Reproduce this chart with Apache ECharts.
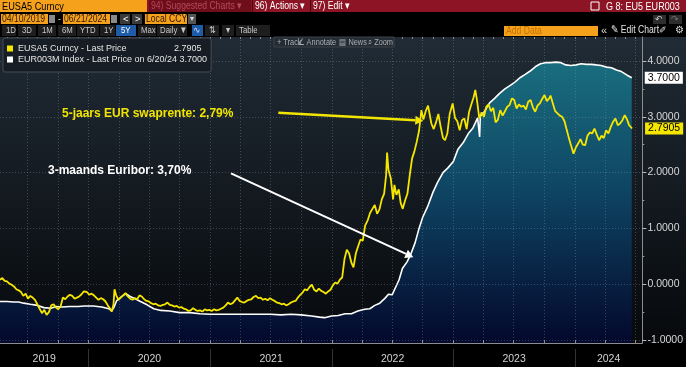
<!DOCTYPE html>
<html><head><meta charset="utf-8">
<script src="https://cdn.jsdelivr.net/npm/echarts@6/dist/echarts.min.js"></script>
<style>html,body{margin:0;padding:0;background:#000;overflow:hidden}#c{width:686px;height:367px}</style>
</head><body><div id="c"></div><script>
// ---------- DATA ----------
const swapName = 'EUSA5 Curncy - Last Price';
const euriborName = 'EUR003M Index - Last Price on 6/20/24';
const swapDates = ['2019-04-10','2019-04-17','2019-04-24','2019-05-01','2019-05-08','2019-05-15','2019-05-22','2019-05-29','2019-06-05','2019-06-12','2019-06-19','2019-06-26','2019-07-03','2019-07-10','2019-07-17','2019-07-24','2019-07-31','2019-08-07','2019-08-14','2019-08-21','2019-08-28','2019-09-04','2019-09-11','2019-09-18','2019-09-25','2019-10-02','2019-10-09','2019-10-16','2019-10-23','2019-10-30','2019-11-06','2019-11-13','2019-11-20','2019-11-27','2019-12-04','2019-12-11','2019-12-18','2019-12-27',
'2020-01-03','2020-01-10','2020-01-17','2020-01-24','2020-01-31','2020-02-07','2020-02-14','2020-02-21','2020-02-28','2020-03-06','2020-03-11','2020-03-16','2020-03-19','2020-03-24','2020-03-31','2020-04-07','2020-04-14','2020-04-21','2020-04-28','2020-05-05','2020-05-12','2020-05-19','2020-05-26','2020-06-02','2020-06-09','2020-06-16','2020-06-23','2020-06-30','2020-07-07','2020-07-14','2020-07-21','2020-07-28','2020-08-04','2020-08-11','2020-08-18','2020-08-25','2020-09-01','2020-09-08','2020-09-15','2020-09-22','2020-09-29','2020-10-06','2020-10-13','2020-10-20','2020-10-27','2020-11-03','2020-11-10','2020-11-17','2020-11-24','2020-12-01','2020-12-08','2020-12-15','2020-12-22','2020-12-29',
'2021-01-05','2021-01-12','2021-01-19','2021-01-26','2021-02-02','2021-02-09','2021-02-16','2021-02-23','2021-03-02','2021-03-09','2021-03-16','2021-03-23','2021-03-30','2021-04-06','2021-04-13','2021-04-20','2021-04-27','2021-05-04','2021-05-11','2021-05-18','2021-05-25','2021-06-01','2021-06-08','2021-06-15','2021-06-22','2021-06-29','2021-07-06','2021-07-13','2021-07-20','2021-07-27','2021-08-03','2021-08-10','2021-08-17','2021-08-24','2021-08-31','2021-09-07','2021-09-14','2021-09-21','2021-09-28','2021-10-05','2021-10-12','2021-10-19','2021-10-26','2021-11-02','2021-11-09','2021-11-16','2021-11-23','2021-11-30','2021-12-07','2021-12-14','2021-12-21','2021-12-28',
'2022-01-04','2022-01-11','2022-01-18','2022-01-25','2022-02-01','2022-02-08','2022-02-15','2022-02-22','2022-03-01','2022-03-07','2022-03-14','2022-03-21','2022-03-28','2022-04-04','2022-04-11','2022-04-19','2022-04-26','2022-05-03','2022-05-10','2022-05-17','2022-05-24','2022-05-31','2022-06-07','2022-06-13','2022-06-16','2022-06-20','2022-06-27','2022-07-04','2022-07-08','2022-07-14','2022-07-21','2022-07-27','2022-08-02','2022-08-09','2022-08-16','2022-08-23','2022-08-30','2022-09-06','2022-09-13','2022-09-20','2022-09-27','2022-10-03','2022-10-10','2022-10-17','2022-10-21','2022-10-27','2022-11-03','2022-11-10','2022-11-17','2022-11-24','2022-12-01','2022-12-07','2022-12-14','2022-12-21','2022-12-30',
'2023-01-06','2023-01-13','2023-01-20','2023-01-27','2023-02-03','2023-02-10','2023-02-17','2023-02-24','2023-03-03','2023-03-08','2023-03-13','2023-03-20','2023-03-27','2023-04-03','2023-04-10','2023-04-17','2023-04-24','2023-05-01','2023-05-08','2023-05-15','2023-05-22','2023-05-29','2023-06-05','2023-06-12','2023-06-19','2023-06-26','2023-07-03','2023-07-10','2023-07-17','2023-07-24','2023-07-31','2023-08-07','2023-08-14','2023-08-21','2023-08-28','2023-09-04','2023-09-11','2023-09-18','2023-09-25','2023-10-02','2023-10-09','2023-10-16','2023-10-20','2023-10-27','2023-11-03','2023-11-10','2023-11-17','2023-11-24','2023-12-01','2023-12-08','2023-12-15','2023-12-20','2023-12-28',
'2024-01-04','2024-01-11','2024-01-18','2024-01-25','2024-02-01','2024-02-08','2024-02-15','2024-02-22','2024-02-29','2024-03-07','2024-03-14','2024-03-21','2024-03-28','2024-04-04','2024-04-11','2024-04-18','2024-04-25','2024-05-02','2024-05-09','2024-05-16','2024-05-23','2024-05-30','2024-06-06','2024-06-12','2024-06-17','2024-06-21'];
const swapValues = [0.08,0.11,0.06,0.05,0.01,-0.01,-0.04,-0.09,-0.11,-0.14,-0.21,-0.17,-0.26,-0.21,-0.24,-0.28,-0.36,-0.44,-0.52,-0.46,-0.55,-0.50,-0.38,-0.36,-0.42,-0.45,-0.40,-0.24,-0.27,-0.22,-0.19,-0.21,-0.26,-0.24,-0.22,-0.18,-0.13,-0.14,
-0.19,-0.17,-0.20,-0.24,-0.28,-0.25,-0.27,-0.31,-0.38,-0.44,-0.49,-0.36,-0.09,-0.20,-0.28,-0.24,-0.20,-0.16,-0.22,-0.26,-0.28,-0.25,-0.27,-0.20,-0.22,-0.27,-0.30,-0.31,-0.34,-0.36,-0.35,-0.38,-0.39,-0.37,-0.36,-0.33,-0.37,-0.38,-0.40,-0.39,-0.42,-0.41,-0.44,-0.45,-0.48,-0.47,-0.43,-0.46,-0.48,-0.47,-0.49,-0.45,-0.47,-0.46,
-0.48,-0.45,-0.47,-0.46,-0.44,-0.42,-0.38,-0.33,-0.36,-0.34,-0.29,-0.24,-0.30,-0.32,-0.33,-0.30,-0.28,-0.27,-0.23,-0.21,-0.25,-0.24,-0.28,-0.26,-0.29,-0.25,-0.28,-0.30,-0.33,-0.34,-0.36,-0.35,-0.38,-0.36,-0.33,-0.31,-0.30,-0.24,-0.19,-0.15,-0.09,-0.11,-0.05,-0.01,-0.10,-0.13,-0.08,-0.12,-0.14,-0.17,-0.13,-0.10,
-0.02,0.03,0.01,0.08,0.12,0.45,0.62,0.55,0.38,0.30,0.55,0.68,0.80,0.78,1.05,1.15,1.28,1.35,1.42,1.26,1.34,1.52,1.62,1.95,2.36,2.05,1.90,1.52,1.78,1.60,1.70,1.45,1.35,1.50,1.62,1.95,2.25,2.38,2.55,2.75,3.12,2.95,3.10,3.20,3.18,2.88,2.78,2.90,3.05,2.82,2.62,2.58,2.70,3.05,3.24,
2.98,2.92,2.76,2.94,2.97,2.78,3.08,3.22,3.35,3.48,3.30,2.97,3.08,3.00,3.18,3.22,3.10,3.16,2.90,2.95,3.12,3.02,3.10,3.18,3.21,3.33,3.30,3.15,3.22,3.18,3.20,3.13,3.27,3.30,3.17,3.09,3.20,3.24,3.32,3.39,3.28,3.33,3.38,3.24,3.10,3.06,3.02,3.00,2.92,2.76,2.60,2.50,2.34,
2.45,2.52,2.60,2.50,2.49,2.66,2.72,2.70,2.79,2.68,2.58,2.66,2.62,2.76,2.70,2.82,2.91,2.97,2.85,2.88,2.94,3.03,2.95,2.85,2.82,2.7905];
const euriborDates = ['2019-04-10','2019-05-01','2019-05-20','2019-06-05','2019-06-20','2019-07-10','2019-08-01','2019-08-20','2019-09-10','2019-09-25','2019-10-15','2019-11-05','2019-12-01','2019-12-20','2020-01-15','2020-02-10','2020-03-02','2020-03-10','2020-03-17','2020-03-25','2020-04-10','2020-04-22','2020-05-05','2020-05-20','2020-06-05','2020-06-25','2020-07-15','2020-08-05','2020-09-01','2020-10-01','2020-11-01','2020-12-01','2021-01-01','2021-02-01','2021-03-01','2021-04-01','2021-05-01','2021-06-01','2021-07-01','2021-08-01','2021-09-01','2021-10-01','2021-11-01','2021-11-25','2021-12-10','2021-12-31','2022-01-20','2022-02-10','2022-03-01','2022-03-20','2022-04-10','2022-04-25','2022-05-10','2022-05-25','2022-06-10','2022-06-20','2022-07-01','2022-07-12','2022-07-22','2022-08-01','2022-08-15','2022-08-25','2022-09-08','2022-09-20','2022-10-01','2022-10-15','2022-11-01','2022-11-15','2022-12-01','2022-12-15','2023-01-01','2023-01-15','2023-02-01','2023-02-15','2023-03-01','2023-03-15','2023-03-21','2023-03-23','2023-04-05','2023-04-20','2023-05-05','2023-05-20','2023-06-05','2023-06-20','2023-07-05','2023-07-20','2023-08-05','2023-08-20','2023-09-05','2023-09-20','2023-10-05','2023-10-20','2023-11-05','2023-11-20','2023-12-05','2023-12-20','2024-01-05','2024-01-20','2024-02-05','2024-02-20','2024-03-05','2024-03-20','2024-04-05','2024-04-20','2024-05-05','2024-05-20','2024-06-05','2024-06-20'];
const euriborValues = [-0.31,-0.31,-0.32,-0.32,-0.34,-0.36,-0.38,-0.42,-0.43,-0.40,-0.41,-0.40,-0.40,-0.39,-0.39,-0.41,-0.44,-0.48,-0.42,-0.30,-0.22,-0.17,-0.22,-0.26,-0.31,-0.37,-0.44,-0.47,-0.48,-0.51,-0.51,-0.53,-0.54,-0.54,-0.54,-0.54,-0.54,-0.54,-0.54,-0.55,-0.54,-0.55,-0.57,-0.59,-0.60,-0.57,-0.56,-0.53,-0.53,-0.48,-0.45,-0.44,-0.38,-0.34,-0.25,-0.18,-0.19,-0.05,0.08,0.28,0.40,0.52,0.74,1.00,1.20,1.38,1.65,1.83,2.00,2.08,2.20,2.42,2.55,2.70,2.80,2.98,2.64,3.01,3.10,3.25,3.33,3.42,3.50,3.56,3.62,3.70,3.76,3.82,3.90,3.95,3.97,3.97,3.98,3.97,3.93,3.92,3.93,3.95,3.94,3.94,3.93,3.92,3.89,3.88,3.84,3.81,3.75,3.70];
const yTickValues = [-1,0,1,2,3,4];
const yMinorTicks = [-0.5,0.5,1.5,2.5,3.5];
const yearLabels = ['2019','2020','2021','2022','2023','2024'];
const yearStarts = ['2020-01-01','2021-01-01','2022-01-01','2023-01-01','2024-01-01'];
const xMinDate = '2019-04-10', xMaxDate = '2024-07-22';
const yMin = -1.054, yMax = 4.43;

// ---------- helpers ----------
const ts = s => Date.UTC(+s.slice(0,4), +s.slice(5,7) - 1, +s.slice(8,10));
const xMin = ts(xMinDate), xMax = ts(xMaxDate);
const quarterTicks = [], monthTicks = [];
for (let y = 2019; y <= 2024; y++) for (let m = 1; m <= 12; m++) {
  const t = Date.UTC(y, m - 1, 1);
  if (t < xMin || t > xMax) continue;
  monthTicks.push(t); if ((m - 1) % 3 === 0) quarterTicks.push(t);
}
const bounds = [xMin].concat(yearStarts.map(ts), [xMax]);
const yearLabelPos = yearLabels.map((_, i) => (bounds[i] + bounds[i + 1]) / 2);
const swapData = swapDates.map((d, i) => [ts(d), swapValues[i]]);
const euriborData = euriborDates.map((d, i) => [ts(d), euriborValues[i]]);
const swapLast = swapValues[swapValues.length - 1];
const eurLast = euriborValues[euriborValues.length - 1];

const SF = '"Liberation Sans",Arial,sans-serif';
const els = [];
function R(x, y, w, h, fill) { els.push({type:'rect', shape:{x, y, width:w, height:h}, style:{fill}, z:100, silent:true}); }
// narrow UI text (Bloomberg-like condensed font approximated with horizontal scaling)
function T(x, y, text, fill, size, sx, weight) {
  els.push({type:'text', x, y, scaleX:(sx == null ? 0.82 : sx), style:{text, fill, font:`${weight||'normal'} ${size}px ${SF}`, verticalAlign:'middle'}, z:101, silent:true});
}
function arrow(x1, y1, x2, y2, color, w, hl, hw) {
  const L = Math.hypot(x2 - x1, y2 - y1), dx = (x2 - x1) / L, dy = (y2 - y1) / L;
  const bx = x2 - dx * hl, by = y2 - dy * hl, px = -dy, py = dx;
  els.push({type:'line', shape:{x1, y1, x2:bx, y2:by}, style:{stroke:color, lineWidth:w}, z:110, silent:true});
  els.push({type:'polygon', shape:{points:[[x2, y2],[bx + px*hw, by + py*hw],[bx - px*hw, by - py*hw]]}, style:{fill:color}, z:110, silent:true});
}
// plot background
els.push({type:'rect', shape:{x:0, y:37, width:686, height:306}, z:-10, silent:true,
  style:{fill:new echarts.graphic.LinearGradient(0,0,0,1,[{offset:0,color:'#202b35'},{offset:1,color:'#07090c'}])}});
// row 1
R(0,0,686,12,'#8c1424');
R(0,0,147,12,'#f6a11c');
T(2,6.5,'EUSA5 Curncy','#000',11.5,0.8);
R(149,0,102,12,'#6e0e1b');
T(151,6.5,'94) Suggested Charts ▾','#b54a5c',10.5);
R(252,0,1,12,'#4a0710'); R(310,0,1,12,'#4a0710');
T(255,6.5,'96) Actions ▾','#ffffff',10.5);
T(313,6.5,'97) Edit ▾','#ffffff',10.5);
els.push({type:'rect', shape:{x:591,y:2,width:8,height:8}, style:{fill:'none',stroke:'#fff',lineWidth:1}, z:101, silent:true});
T(606,6.5,'G 8: EU5 EUR003','#ffffff',11);
// row 2
R(1,14,47,10,'#f6a11c'); T(2,19.5,'04/10/2019','#2b1800',10.5);
R(49,15,6,8,'#8a8a8a');
T(58,19,'-','#ddd',10);
R(63,14,47,10,'#f6a11c'); T(64,19.5,'06/21/2024','#2b1800',10.5);
R(111,15,6,8,'#8a8a8a');
R(120,14,10,10,'#3a3a3a'); T(123,19.5,'<','#fff',9.5,1);
R(132,14,10,10,'#3a3a3a'); T(135,19.5,'>','#fff',9.5,1);
R(145,14,42,10,'#f6a11c'); T(146,19.5,'Local CCY','#2b1800',10.5);
R(188,14,8,10,'#555'); T(190,19,'▾','#ddd',8,1);
R(653,15,13,9,'#2d2d2d'); T(655,19.5,'↶','#ccc',9,1);
R(669,15,13,9,'#2d2d2d'); T(671,19.5,'↷','#777',9,1);
// row 3
[[2,14,'1D'],[18,18,'3D'],[38,18,'1M'],[58,18,'6M'],[77,22,'YTD'],[100,15,'1Y'],[138,18,'Max'],[157,30,'Daily ▼'],[205,14,'⇅'],[222,12,'▾'],[236,34,'Table']].forEach(b => {
  R(b[0],25,b[1],11,'#1e1e1e'); T(b[0] + (b[2].length < 3 ? 4 : 3),30.5,b[2],'#c9c9c9',9.5);
});
R(116,25,20,11,'#1e5ca8'); T(121,30.5,'5Y','#fff',9.5);
R(192,25,11,11,'#1e5ca8'); T(193,30.5,'∿','#cfe0ff',9,1);
R(504,26,94,10,'#f6a11c'); T(506,31,'Add Data','#c27300',10.5);
T(601,30.5,'«','#ddd',11,1);
T(611,30.5,'✎ Edit Chart','#e0e0e0',10.5);
T(659,30.5,'✐','#ddd',9,1);
T(675,30.5,'⚙','#ddd',10,1);
// plot toolbar
els.push({type:'rect', shape:{x:274,y:37,width:120,height:10}, style:{fill:'#252c33', stroke:'#3c434a', lineWidth:1}, z:100, silent:true});
T(277,42.5,'+ Track','#aab0b6',9); T(298,42.5,'∠ Annotate','#aab0b6',9); T(339,42.5,'▤ News','#aab0b6',9); T(368,42.5,'⌕ Zoom','#aab0b6',9);
// annotations
T(62,113.5,'5-jaars EUR swaprente: 2,79%','#f2e600',12,1,'bold');
arrow(278.3,112.7,423.3,120.7,'#f2e600',2.5,8,4.5);
T(48,170.5,'3-maands Euribor: 3,70%','#ffffff',12,1,'bold');
arrow(231,173.3,413.3,257.3,'#ffffff',2,8,4.5);

const chart = echarts.init(document.getElementById('c'), null, {renderer:'canvas'});
const gridDot = {show:true, lineStyle:{color:'rgba(150,160,170,0.34)', type:[1,2], width:1}};
chart.setOption({
  animation:false,
  backgroundColor:'#000',
  grid:{left:0, right:41, top:37, bottom:24},
  legend:{
    left:3, top:38, orient:'vertical', icon:'rect', itemWidth:6, itemHeight:6, itemGap:0,
    backgroundColor:'#161d24', borderColor:'#474d54', borderWidth:1, borderRadius:2, padding:[5,4,7,4],
    data:[swapName, euriborName],
    textStyle:{color:'#e4e4e4', fontSize:9, fontFamily:SF, lineHeight:11,
      rich:{a:{width:156, fontSize:9, fontFamily:SF, color:'#e4e4e4'}, b:{fontSize:9, fontFamily:SF, color:'#e4e4e4'}}},
    formatter: n => n === swapName ? `{a|${n}}{b|${swapLast.toFixed(4)}}` : `${n} ${eurLast.toFixed(4)}`
  },
  xAxis:[
    {type:'value', min:xMin, max:xMax, z:3,
     axisLine:{show:true, onZero:false, lineStyle:{color:'#8d8d8d'}},
     axisTick:{show:true, inside:true, length:3, customValues:quarterTicks, lineStyle:{color:'#8d8d8d'}},
     axisLabel:{show:false}, splitLine:gridDot},
    {type:'value', min:xMin, max:xMax, position:'bottom', offset:6, z:3,
     axisLine:{show:false, onZero:false},
     axisTick:{show:true, inside:false, length:20, customValues:yearStarts.map(ts), lineStyle:{color:'#333'}},
     axisLabel:{show:true, customValues:yearLabelPos, margin:5, color:'#d2d2d2', fontSize:10.5, fontFamily:SF,
       formatter: v => { const i = yearLabelPos.findIndex(p => Math.abs(p - v) < 864e5); return i >= 0 ? yearLabels[i] : ''; }},
     splitLine:{show:false}},
    {type:'value', min:xMin, max:xMax, z:3, axisLine:{show:false, onZero:false},
     axisTick:{show:true, inside:true, length:2, customValues:monthTicks, lineStyle:{color:'#8d8d8d'}},
     axisLabel:{show:false}, splitLine:{show:false}}
  ],
  yAxis:[
    {type:'value', position:'right', min:yMin, max:yMax, z:3,
     axisLine:{show:true, onZero:false, lineStyle:{color:'#8d8d8d'}},
     axisTick:{show:true, inside:false, length:4, customValues:yTickValues, lineStyle:{color:'#bbb'}},
     axisLabel:{customValues:yTickValues, color:'#d6d6d6', fontSize:10.5, fontFamily:SF, margin:5, formatter:v => v.toFixed(4)},
     splitLine:gridDot},
    {type:'value', position:'right', min:yMin, max:yMax, z:3, axisLine:{show:false, onZero:false},
     axisTick:{show:true, inside:false, length:2, customValues:yMinorTicks, lineStyle:{color:'#999'}},
     axisLabel:{show:false}, splitLine:{show:false}}
  ],
  series:[
    {name:euriborName, type:'line', data:euriborData, showSymbol:false, z:2,
     lineStyle:{color:'#ffffff', width:1.6}, itemStyle:{color:'#ffffff'},
     areaStyle:{origin:'start', color:{type:'linear', x:0, y:61, x2:0, y2:343, global:true,
       colorStops:[{offset:0,color:'#178c9f'},{offset:0.45,color:'#0c5880'},{offset:1,color:'#02083a'}]}},
     endLabel:{show:true, distance:13, formatter:p => p.value[1].toFixed(4), backgroundColor:'#fff', color:'#000',
       padding:[1,3,0,3], fontSize:10.5, fontFamily:SF}},
    {name:swapName, type:'line', data:swapData, showSymbol:false, z:5,
     lineStyle:{color:'#f5e600', width:1.8}, itemStyle:{color:'#f5e600'},
     endLabel:{show:true, distance:13, formatter:p => p.value[1].toFixed(4), backgroundColor:'#f5e600', color:'#000',
       padding:[1,3,0,3], fontSize:10.5, fontFamily:SF}}
  ],
  graphic:{elements:els}
});
</script></body></html>
